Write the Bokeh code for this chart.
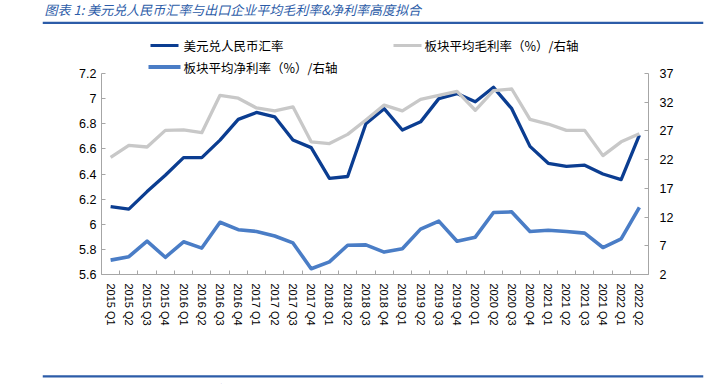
import math
from bokeh.plotting import figure
from bokeh.layouts import column, row
from bokeh.models import LinearAxis, Range1d, FixedTicker, CustomJSTickFormatter
from bokeh.core.properties import value
from bokeh.embed import file_html
from bokeh.resources import INLINE

# ---------------- data ----------------
quarters = ["2015 Q1", "2015 Q2", "2015 Q3", "2015 Q4",
            "2016 Q1", "2016 Q2", "2016 Q3", "2016 Q4",
            "2017 Q1", "2017 Q2", "2017 Q3", "2017 Q4",
            "2018 Q1", "2018 Q2", "2018 Q3", "2018 Q4",
            "2019 Q1", "2019 Q2", "2019 Q3", "2019 Q4",
            "2020 Q1", "2020 Q2", "2020 Q3", "2020 Q4",
            "2021 Q1", "2021 Q2", "2021 Q3", "2021 Q4",
            "2022 Q1", "2022 Q2"]
usd_cny = [6.14, 6.12, 6.26, 6.39, 6.53, 6.53, 6.67, 6.835,
           6.89, 6.855, 6.67, 6.61, 6.365, 6.38, 6.80, 6.92,
           6.75, 6.815, 7.00, 7.04, 6.975, 7.09, 6.92, 6.62,
           6.485, 6.46, 6.47, 6.40, 6.355, 6.71]
gross_margin = [22.4, 24.5, 24.2, 27.1, 27.2, 26.7, 33.2, 32.7,
                31.0, 30.5, 31.2, 25.1, 24.8, 26.4, 28.9, 31.5,
                30.5, 32.5, 33.2, 33.9, 30.6, 34.0, 34.3, 29.0,
                28.2, 27.1, 27.1, 22.7, 25.1, 26.5]
net_margin = [4.5, 5.1, 7.8, 5.0, 7.7, 6.6, 11.1, 9.8,
              9.5, 8.7, 7.5, 3.0, 4.2, 7.1, 7.15, 5.9,
              6.5, 9.9, 11.3, 7.8, 8.5, 12.8, 12.9, 9.5,
              9.7, 9.5, 9.2, 6.7, 8.2, 13.7]
left_ticks = [5.6, 5.8, 6.0, 6.2, 6.4, 6.6, 6.8, 7.0, 7.2]
right_ticks = [2, 7, 12, 17, 22, 27, 32, 37]

title_text = "图表 1:  美元兑人民币汇率与出口企业平均毛利率&净利率高度拟合"
source_text = "资料来源：Wind，国盛证券研究所"
series_names = ["美元兑人民币汇率", "板块平均毛利率（%）/右轴", "板块平均净利率（%）/右轴"]

# ---------------- styles / layout ----------------
C_DARK = "#0B3D91"
C_GRAY = "#C8C8C8"
C_LIGHT = "#4A7DC6"
C_TITLE = "#2C5CA8"
AXIS_C = "#A6A6A6"
NUM_FONT = "Liberation Sans"
CJK_FONT = "Noto Sans CJK SC"

W = 711
HEAD_H = 34          # header strip (title + rule)
MAIN_H = 316         # main chart
FOOT_H = 34          # footer strip (rule + source)
RULE_L, RULE_R = 42, 703        # blue rules, page pixels
F_LEFT, F_RIGHT = 101, 648      # plot frame, page pixels
F_TOP, F_BOTTOM = 73, 274       # data region, page pixels


def strip(h):
    return figure(width=W, height=h, x_range=Range1d(RULE_L, RULE_R),
                  y_range=Range1d(h, 0), x_axis_type=None, y_axis_type=None,
                  min_border_left=RULE_L, min_border_right=W - RULE_R,
                  min_border_top=0, min_border_bottom=0,
                  toolbar_location=None, output_backend="svg",
                  outline_line_color=None, title=None,
                  border_fill_color=None, background_fill_color=None)


# header (built exactly like the footer)
head = strip(HEAD_H)
head.segment(x0=[RULE_L], y0=[22.3], x1=[RULE_R], y1=[22.3], line_color=C_TITLE, line_width=2.3)
head.text(x=[44], y=[8.5], text=[title_text], text_font=value(CJK_FONT),
          text_font_size="13px", text_font_style="italic", text_color=C_TITLE,
          text_baseline="middle", text_align="left")

# main chart
xs = list(range(len(quarters)))
l_per_px = (left_ticks[-1] - left_ticks[0]) / (F_BOTTOM - F_TOP)
r_per_px = (right_ticks[-1] - right_ticks[0]) / (F_BOTTOM - F_TOP)
l_top = left_ticks[-1] + (F_TOP - HEAD_H) * l_per_px
r_top = right_ticks[-1] + (F_TOP - HEAD_H) * r_per_px

p = figure(width=W, height=MAIN_H,
           x_range=Range1d(-0.5, len(quarters) - 0.5),
           y_range=Range1d(left_ticks[0], l_top),
           output_backend="svg", toolbar_location=None, title=None,
           min_border_left=F_LEFT, min_border_right=W - F_RIGHT,
           min_border_top=0, min_border_bottom=HEAD_H + MAIN_H - F_BOTTOM,
           outline_line_color=None,
           border_fill_color=None, background_fill_color=None)
p.xgrid.visible = False
p.ygrid.visible = False
p.extra_y_ranges = {"right": Range1d(right_ticks[0], r_top),
                    "px": Range1d(F_BOTTOM, HEAD_H)}
p.extra_x_ranges = {"px": Range1d(F_LEFT, F_RIGHT)}

ya = p.yaxis[0]
ya.ticker = FixedTicker(ticks=left_ticks)
ya.bounds = (left_ticks[0], left_ticks[-1])
ya.formatter = CustomJSTickFormatter(code="return String(Math.round(tick*10)/10)")
ya.axis_line_color = AXIS_C
ya.major_tick_line_color = AXIS_C
ya.major_tick_in = 4
ya.major_tick_out = 0
ya.minor_tick_line_color = None
ya.major_label_text_font = NUM_FONT
ya.major_label_text_font_size = "12.5px"
ya.major_label_text_color = "#000000"
ya.major_label_standoff = 5

ra = LinearAxis(y_range_name="right")
ra.ticker = FixedTicker(ticks=right_ticks)
ra.bounds = (right_ticks[0], right_ticks[-1])
ra.axis_line_color = AXIS_C
ra.major_tick_line_color = AXIS_C
ra.major_tick_in = 4
ra.major_tick_out = 0
ra.minor_tick_line_color = None
ra.major_label_text_font = NUM_FONT
ra.major_label_text_font_size = "12.5px"
ra.major_label_text_color = "#000000"
ra.major_label_standoff = 11
p.add_layout(ra, "right")

xa = p.xaxis[0]
xa.ticker = FixedTicker(ticks=xs, minor_ticks=[i - 0.5 for i in xs] + [xs[-1] + 0.5])
xa.major_label_overrides = {i: q for i, q in zip(xs, quarters)}
xa.major_label_orientation = -math.pi / 2
xa.major_tick_line_color = None
xa.major_tick_in = 0
xa.major_tick_out = 0
xa.minor_tick_line_color = AXIS_C
xa.minor_tick_in = 4
xa.minor_tick_out = 0
xa.axis_line_color = AXIS_C
xa.major_label_text_font = NUM_FONT
xa.major_label_text_font_size = "11px"
xa.major_label_text_color = "#000000"
xa.major_label_standoff = 9

p.line(xs, usd_cny, line_color=C_DARK, line_width=3.3, line_join="round")
p.line(xs, gross_margin, y_range_name="right", line_color=C_GRAY, line_width=3.3, line_join="round")
p.line(xs, net_margin, y_range_name="right", line_color=C_LIGHT, line_width=3.6, line_join="round")

# legend (page-pixel coordinates through the "px" ranges)
leg = dict(x_range_name="px", y_range_name="px")
txt = dict(text_font=value(CJK_FONT), text_font_size="12.5px", text_color="#000000",
           text_baseline="middle", text_align="left", **leg)
p.line([150, 178], [45, 45], line_color=C_DARK, line_width=3, **leg)
p.text(x=[183], y=[45], text=[series_names[0]], **txt)
p.line([393, 421], [45, 45], line_color=C_GRAY, line_width=3, **leg)
p.text(x=[424], y=[45], text=[series_names[1]], **txt)
p.line([148, 180], [66.5, 66.5], line_color=C_LIGHT, line_width=4, **leg)
p.text(x=[183], y=[66.5], text=[series_names[2]], **txt)

# footer
foot = strip(FOOT_H)
foot.segment(x0=[RULE_L], y0=[25.8], x1=[RULE_R], y1=[25.8], line_color=C_TITLE, line_width=2.3)
foot.text(x=[52], y=[29], text=[source_text], text_font=value(CJK_FONT),
          text_font_size="12px", text_font_style="italic", text_color="#1F3F7A",
          text_baseline="top", text_align="left")

layout = column(row(head, spacing=0), row(p, spacing=0), row(foot, spacing=0), spacing=0)
open("out.html", "w").write(file_html(layout, INLINE))
